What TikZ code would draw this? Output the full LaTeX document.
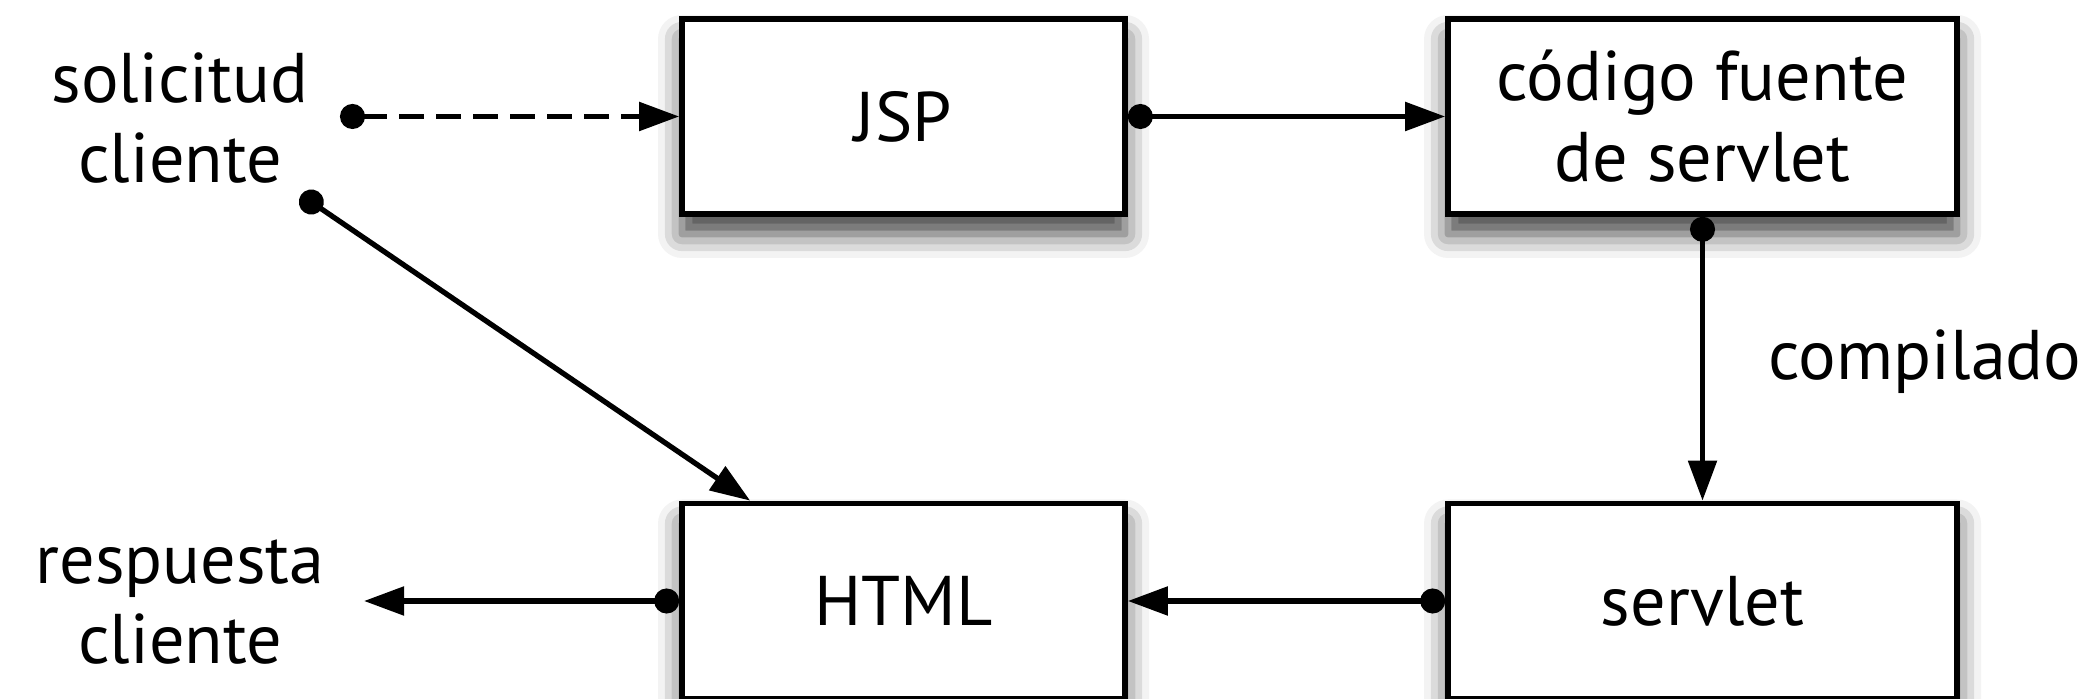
\documentclass[tikz,border=0pt]{standalone}
\usepackage{fontspec}
\setmainfont{PT Sans}
\usepackage{tikz}
\usetikzlibrary{arrows.meta, positioning, shadows, shadows.blur}

\begin{document}
\begin{tikzpicture}[
  stage/.style={
    rectangle,
    draw,
    fill=white,
    line width=1.6pt,
    minimum height=1.95cm,
    blur shadow={shadow xshift=0cm, shadow yshift=-0.2cm, shadow blur radius=0.24cm, shadow opacity=75},
    font=\fontsize{20}{23}\selectfont,
    align=center
  },
  flow/.style={
    {Circle[length=0.25cm,width=0.25cm]}-{Triangle[length=0.4cm,width=0.28cm]},
    line width=1.5pt
  },
  dashflow/.style={
    flow,
    dash pattern=on 0.25cm off 0.12cm
  },
  note/.style={
    font=\fontsize{20}{23}\selectfont,
    align=center
  }
]
\useasboundingbox (0,0) rectangle (20.96,6.99);

% Processing stages
\node[stage, minimum width=4.43cm] (jsp) at (9.035,5.825) {JSP};
\node[stage, minimum width=5.09cm] (source) at (17.025,5.825) {código fuente\\de servlet};
\node[stage, minimum width=5.09cm] (servlet) at (17.025,0.98) {servlet};
\node[stage, minimum width=4.43cm] (html) at (9.035,0.98) {HTML};

% Client side labels
\node[note] (request) at (1.80,5.81) {solicitud\\cliente};
\node[note] (response) at (1.80,0.97) {respuesta\\cliente};
\node[note] (compiled) at (19.25,3.37) {compilado};

% Free ends of the client connectors
\coordinate (reqdot) at (3.40,5.825);
\coordinate (reqdiag) at (3.01,5.04);
\coordinate (resptip) at (3.64,0.98);

% Connections
\draw[dashflow] (reqdot) -- (jsp.west);
\draw[flow] (jsp.east) -- (source.west);
\draw[flow] (source.south) -- (servlet.north);
\draw[flow] (servlet.west) -- (html.east);
\draw[flow] (html.west) -- (resptip);
\draw[flow] (reqdiag) -- ([xshift=0.71cm]html.north west);
\end{tikzpicture}
\end{document}
